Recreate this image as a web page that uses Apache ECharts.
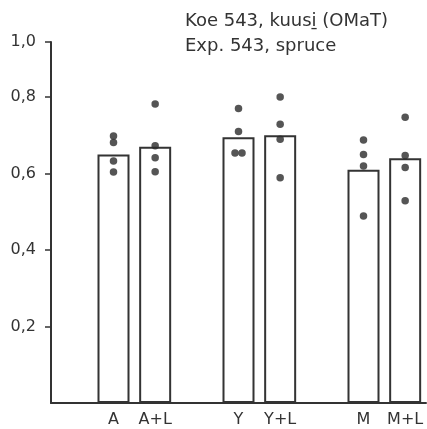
<!DOCTYPE html>
<html><head><meta charset="utf-8">
<script src="https://cdn.jsdelivr.net/npm/echarts@6/dist/echarts.min.js"></script>
<style>html,body{margin:0;padding:0;background:#fff}#c{width:427px;height:429px}</style>
</head><body><div id="c"></div>
<script>
const categories = ['', 'A', 'A+L', '', 'Y', 'Y+L', '', 'M', 'M+L'];
const barValues = [null, 0.65, 0.67, null, 0.695, 0.70, null, 0.61, 0.64];
// individual observations per treatment
const dotsA  = [0.698, 0.681, 0.633, 0.604];
const dotsAL = [0.782, 0.673, 0.641, 0.605];
const dotsY  = [0.770, 0.710, 0.654, 0.654];
const dotsYL = [0.800, 0.729, 0.690, 0.589];
const dotsM  = [0.688, 0.650, 0.620, 0.489];
const dotsML = [0.747, 0.647, 0.616, 0.529];
const yTicks = [0.2, 0.4, 0.6, 0.8, 1.0];
const titleLines = ['Koe 543, kuusi\u0331 (OMaT)', 'Exp. 543, spruce'];

const dotGroups = [['A', dotsA], ['A+L', dotsAL], ['Y', dotsY], ['Y+L', dotsYL], ['M', dotsM], ['M+L', dotsML]];
const dotData = [];
dotGroups.forEach(([cat, vals]) => {
  vals.forEach((v, i) => {
    const item = { value: [cat, v] };
    const dupIdx = vals.indexOf(v);
    if (vals.filter(x => x === v).length > 1) {
      item.symbolOffset = [dupIdx === i ? -3.5 : 3.5, 0];
    }
    dotData.push(item);
  });
});

const ink = '#333';
const font = 'DejaVu Sans';
const chart = echarts.init(document.getElementById('c'), null, { renderer: 'canvas' });
chart.setOption({
  animation: false,
  backgroundColor: '#fff',
  title: {
    text: titleLines.join('\n'),
    left: 180, top: 4,
    textStyle: { fontFamily: font, fontSize: 18, fontWeight: 'normal', color: ink, lineHeight: 25 }
  },
  grid: { left: 51, right: 1, top: 42, bottom: 26, containLabel: false },
  xAxis: {
    type: 'category', data: categories,
    axisLine: { lineStyle: { color: ink, width: 2 } },
    axisTick: { show: false },
    axisLabel: { color: ink, fontFamily: font, fontSize: 16, margin: 9, interval: 0 },
    splitLine: { show: false }
  },
  yAxis: {
    type: 'value', min: 0, max: 1, interval: 0.2,
    breaks: [{ start: 0.87, end: 0.926, gap: 0 }],
    breakArea: { show: false },
    axisLine: { show: true, lineStyle: { color: ink, width: 2 } },
    axisTick: { show: true, length: 6, lineStyle: { color: ink, width: 1.5 },
      customValues: yTicks },
    axisLabel: { color: ink, fontFamily: font, fontSize: 16, margin: 15,
      customValues: yTicks,
      formatter: v => v.toFixed(1).replace('.', ',') },
    splitLine: { show: false }
  },
  series: [
    {
      type: 'bar', data: barValues, barWidth: 32,
      itemStyle: { color: '#fff', borderColor: ink, borderWidth: 2 },
      z: 2
    },
    {
      type: 'scatter', data: dotData, symbol: 'circle', symbolSize: 7.5,
      itemStyle: { color: '#2a2a2a' }, z: 3
    }
  ]
});
</script></body></html>
